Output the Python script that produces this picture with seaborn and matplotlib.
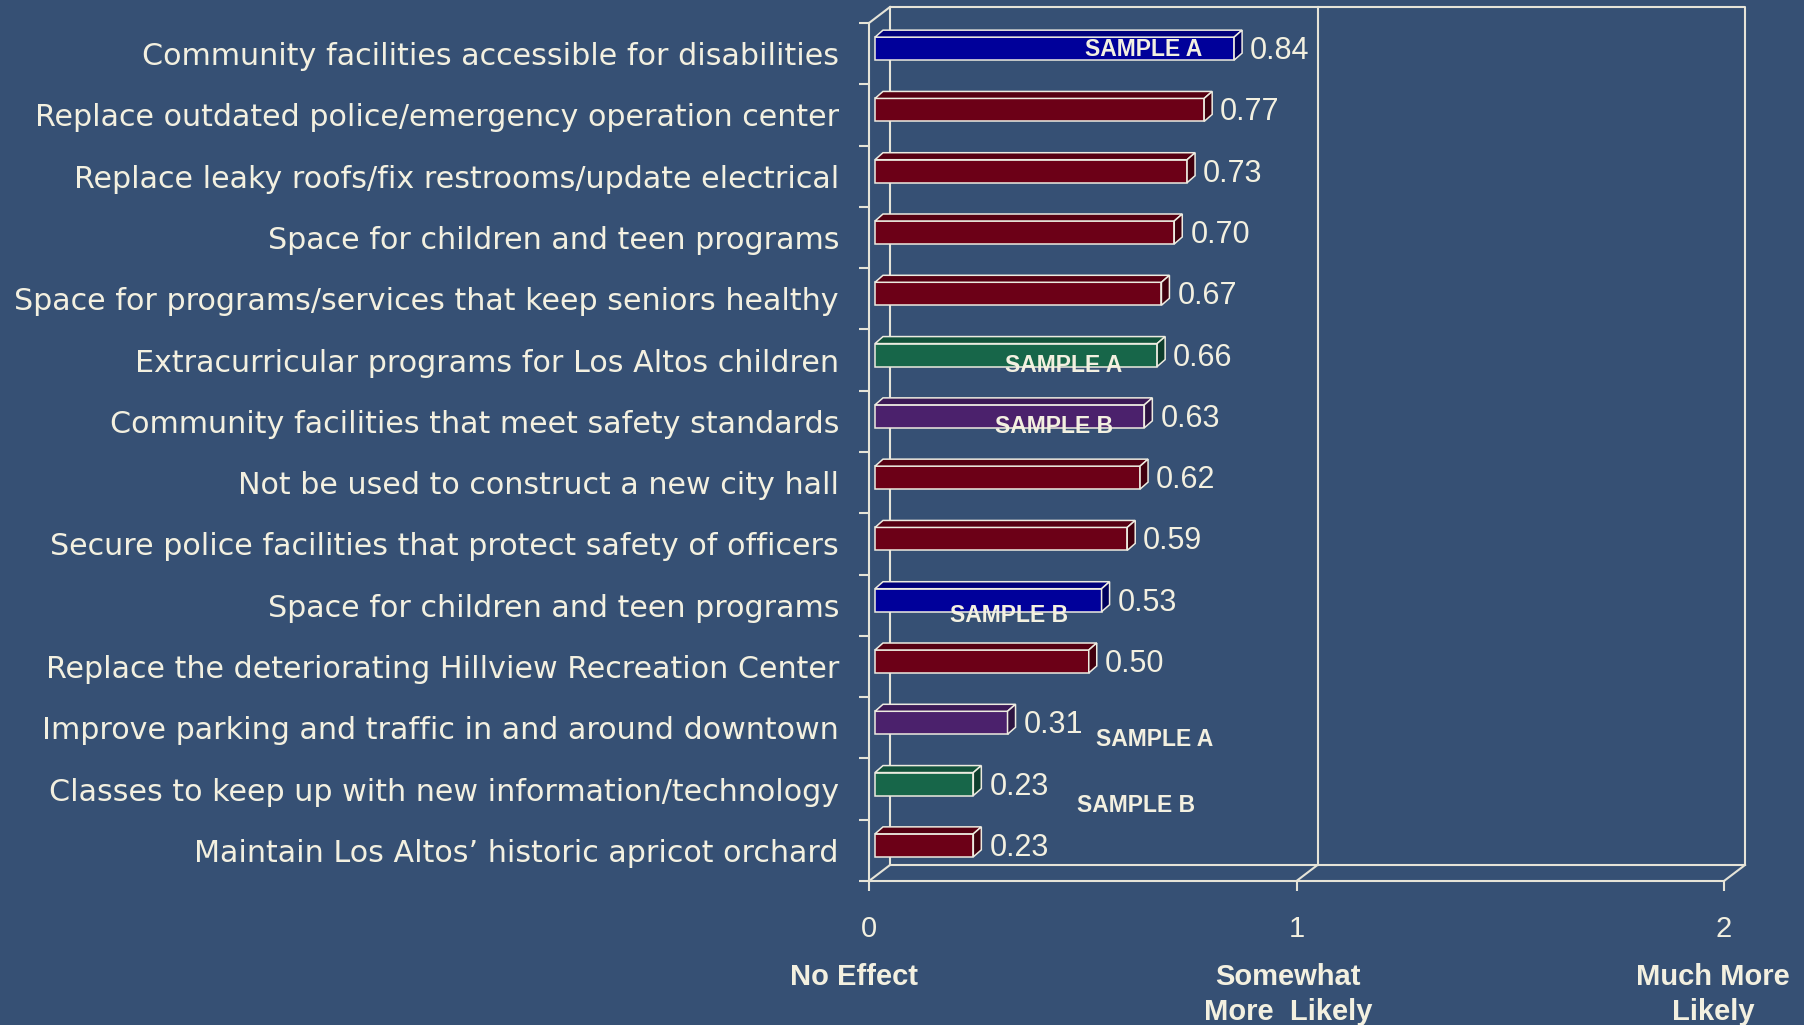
import numpy as np
import pandas as pd
import seaborn as sns
import matplotlib.pyplot as plt
from matplotlib.colors import to_rgb
from matplotlib.transforms import ScaledTranslation, IdentityTransform
from matplotlib.patches import Polygon
from matplotlib.lines import Line2D

# data
labels = ['Community facilities accessible for disabilities',
          'Replace outdated police/emergency operation center',
          'Replace leaky roofs/fix restrooms/update electrical',
          'Space for children and teen programs',
          'Space for programs/services that keep seniors healthy',
          'Extracurricular programs for Los Altos children',
          'Community facilities that meet safety standards',
          'Not be used to construct a new city hall',
          'Secure police facilities that protect safety of officers',
          'Space for children and teen programs',
          'Replace the deteriorating Hillview Recreation Center',
          'Improve parking and traffic in and around downtown',
          'Classes to keep up with new information/technology',
          'Maintain Los Altos\u2019 historic apricot orchard']
values = [0.84, 0.77, 0.73, 0.70, 0.67, 0.66, 0.63, 0.62, 0.59, 0.53, 0.50, 0.31, 0.23, 0.23]
groups = ['blue', 'red', 'red', 'red', 'red', 'green', 'purple', 'red', 'red', 'blue',
          'red', 'purple', 'green', 'red']

sample_text = ['SAMPLE A', 'SAMPLE A', 'SAMPLE B', 'SAMPLE B', 'SAMPLE A', 'SAMPLE B']
sample_x = [0.643, 0.456, 0.433, 0.327, 0.669, 0.625]
sample_y = [-0.06, 5.09, 6.08, 9.16, 11.19, 12.27]

x_ticks = [0, 1, 2]
x_names = ['No Effect', 'Somewhat\nMore  Likely', 'Much More\nLikely']
x_name_pos = [-0.035, 0.981, 1.974]

bg = '#365074'
ink = '#F3F0E0'
line_c = '#E6E4D8'
fills = {'red': '#6C0017', 'blue': '#00009A', 'green': '#176649', 'purple': '#4B216C'}

DPI = 100
bar_shift = (6, 5)     # px, front face of bars sits a bit back
bar_depth = (8, 7)     # px
wall_depth = (21, 16)  # px

df = pd.DataFrame({'row': [str(i) for i in range(len(labels))],
                   'value': values, 'group': groups})

plt.rcParams['font.family'] = ['DejaVu Sans']
fig = plt.figure(figsize=(18.04, 10.25), dpi=DPI, facecolor=bg)
ax = fig.add_axes([869/1804, 144/1025, 855/1804, 858/1025])
ax.set_facecolor('none')

sns.barplot(data=df, x='value', y='row', hue='group', palette=fills, dodge=False,
            width=0.375, saturation=1, legend=False, ax=ax,
            edgecolor='#EDEBE0', linewidth=1.1, zorder=3)

ax.set_xlim(0, 2)
ax.set_ylim(len(labels) - 0.5, -0.5)
ax.set_xlabel('')
ax.set_ylabel('')

for s in ['top', 'right']:
    ax.spines[s].set_visible(False)
for s in ['left', 'bottom']:
    ax.spines[s].set_color(line_c)
    ax.spines[s].set_linewidth(1.5)

ax.set_yticks(range(len(labels)))
ax.set_yticklabels(labels)
ax.set_yticks(np.arange(-0.5, len(labels), 1), minor=True)
ax.tick_params(axis='y', which='major', length=0, pad=21.6, labelsize=21.7, labelcolor=ink)
ax.tick_params(axis='y', which='minor', length=7.2, width=1.5, color=line_c, direction='out')
ax.set_xticks(x_ticks)
ax.set_xticklabels([str(t) for t in x_ticks], family='Liberation Sans')
ax.tick_params(axis='x', length=7.2, width=1.5, color=line_c, direction='out',
               pad=17, labelsize=21, labelcolor=ink)

def px(pt):
    return ax.transData.transform(pt)

# back wall, shifted into depth
wall = ax.transData + ScaledTranslation(wall_depth[0]/DPI, wall_depth[1]/DPI, fig.dpi_scale_trans)
y_bot, y_top = len(labels) - 0.5, -0.5
ax.plot([0, 2, 2, 0, 0], [y_bot, y_bot, y_top, y_top, y_bot], color=line_c, lw=1.5,
        transform=wall, clip_on=False, zorder=1)
ax.plot([1, 1], [y_bot, y_top], color=line_c, lw=1.5, transform=wall, clip_on=False, zorder=1)

# depth edges
for corner in [(0, y_top), (0, y_bot), (1, y_bot), (2, y_bot)]:
    p = px(corner)
    fig.add_artist(Line2D([p[0], p[0] + wall_depth[0]], [p[1], p[1] + wall_depth[1]],
                          color=line_c, lw=1.5, transform=IdentityTransform()))

# 3d bar faces
shift = ax.transData + ScaledTranslation(bar_shift[0]/DPI, bar_shift[1]/DPI, fig.dpi_scale_trans)
dx, dy = bar_depth
for patch in list(ax.patches):
    row = int(round(patch.get_y() + patch.get_height() / 2))
    patch.set_transform(shift)
    x0, x1 = patch.get_x(), patch.get_x() + patch.get_width()
    (ax0, ay0), (ax1, ay1) = px((x0, patch.get_y() + patch.get_height())), px((x1, patch.get_y()))
    ax0 += bar_shift[0]; ax1 += bar_shift[0]; ay0 += bar_shift[1]; ay1 += bar_shift[1]
    base = np.array(to_rgb(fills[groups[row]]))
    top = Polygon([(ax0, ay1), (ax1, ay1), (ax1 + dx, ay1 + dy), (ax0 + dx, ay1 + dy)],
                  closed=True, facecolor=base * 0.8, edgecolor='#EDEBE0', lw=1.1,
                  transform=IdentityTransform())
    side = Polygon([(ax1, ay0), (ax1, ay1), (ax1 + dx, ay1 + dy), (ax1 + dx, ay0 + dy)],
                   closed=True, facecolor=base * 0.6, edgecolor='#EDEBE0', lw=1.1,
                   transform=IdentityTransform())
    fig.add_artist(top)
    fig.add_artist(side)

# value labels
for i, v in enumerate(values):
    ax.annotate(f'{v:.2f}', xy=(v, i), xytext=((bar_shift[0] + dx + 8) * 0.72, 2.5 * 0.72),
                textcoords='offset points', ha='left', va='center', fontsize=22,
                color=ink, family='Liberation Sans', zorder=5)

for t, x, y in zip(sample_text, sample_x, sample_y):
    ax.text(x, y, t, ha='center', va='center', fontsize=16.5, fontweight='bold',
            color=ink, family='Liberation Sans', zorder=6)

for t, x in zip(x_names, x_name_pos):
    ax.annotate(t, xy=(x, 0), xycoords=('data', 'axes fraction'), xytext=(0, -82 * 0.72),
                textcoords='offset points', ha='center', va='top', fontsize=21,
                fontweight='bold', color=ink, family='Liberation Sans', linespacing=1.3,
                annotation_clip=False)

fig.savefig('out.png', dpi=DPI, facecolor=bg)
